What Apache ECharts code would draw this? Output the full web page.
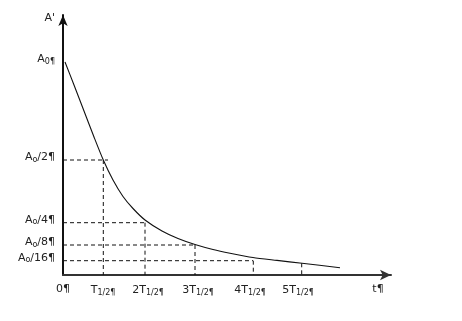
<!DOCTYPE html>
<html><head><meta charset="utf-8">
<script src="https://cdn.jsdelivr.net/npm/echarts@6/dist/echarts.min.js"></script>
<style>html,body{margin:0;padding:0;background:#fff}#c{width:462px;height:321px}</style>
</head><body><div id="c"></div>
<script>
// Decay curve A(t) (t and A in picture units)
const curveT = [2, 11, 21, 31, 40.3, 50, 60, 70, 82, 99, 115, 132, 150, 167, 190, 214, 239, 277];
const curveA = [213, 190, 164, 138, 115, 95, 78.5, 66.5, 55, 44, 36.5, 30.5, 25.5, 21.8, 17.5, 14.6, 11.7, 7.3];
// Horizontal guide levels (A0/2, A0/4, A0/8, A0/16) and how far they run along t
const hLevels = [115, 52.3, 30, 14.3];
const hReach = [45, 83, 132, 190];
// Vertical guides at T1/2 ... 5T1/2 and the height where each starts
const vT = [40.3, 82, 132, 190.3, 238.7];
const vTop = [115, 52.3, 30, 14.3, 11.7];
// Tick labels
const xTickValues = [0, 40, 85, 135, 187, 235, 315];
const xTickLabels = ['0¶', 'T{s|1/2¶}', '2T{s|1/2¶}', '3T{s|1/2¶}', '4T{s|1/2¶}', '5T{s|1/2¶}', 't¶'];
const yTickValues = [254, 213, 115, 52.3, 30, 14.3];
const yTickLabels = ["A'", 'A{s|0¶}', 'A{s|o}/2¶', 'A{s|o}/4¶', 'A{s|o}/8¶', 'A{s|o}/16¶'];

const font = 'DejaVu Sans';
const rich = { s: { fontSize: 8, fontFamily: font, color: '#222', padding: [5, 0, 0, 0] } };
const series = [{
  type: 'line', data: curveT.map((t, i) => [t, curveA[i]]), smooth: 0.25, symbol: 'none',
  lineStyle: { color: '#111', width: 1.1 }, silent: true, z: 3
}];
hLevels.forEach((a, i) => series.push({
  type: 'line', data: [[0, a], [hReach[i], a]], symbol: 'none', silent: true,
  lineStyle: { color: '#111', width: 1, type: [4, 3] }
}));
vT.forEach((t, i) => series.push({
  type: 'line', data: [[t, vTop[i]], [t, 0]], symbol: 'none', silent: true,
  lineStyle: { color: '#111', width: 1, type: [4, 3] }
}));

const chart = echarts.init(document.getElementById('c'), null, { renderer: 'canvas' });
chart.setOption({
  animation: false,
  backgroundColor: '#fff',
  grid: { left: 63, top: 15, width: 328, height: 260 },
  xAxis: {
    type: 'value', min: 0, max: 328,
    splitLine: { show: false },
    axisLine: { onZero: false, symbol: ['none', 'arrow'], symbolSize: [8, 11], symbolOffset: [0, 0],
      lineStyle: { color: '#333', width: 2 } },
    axisTick: { show: false },
    axisLabel: {
      customValues: xTickValues, margin: 9, fontFamily: font, fontSize: 11, color: '#222',
      formatter: v => xTickLabels[xTickValues.indexOf(v)] || '', rich: rich
    }
  },
  yAxis: {
    type: 'value', min: 0, max: 260,
    splitLine: { show: false },
    axisLine: { onZero: false, symbol: ['none', 'arrow'], symbolSize: [7, 11],
      lineStyle: { color: '#111', width: 2 } },
    axisTick: { show: false },
    axisLabel: {
      customValues: yTickValues, margin: 8, fontFamily: font, fontSize: 11, color: '#222',
      padding: [0, 0, 6, 0],
      formatter: v => yTickLabels[yTickValues.indexOf(v)] || '', rich: rich
    }
  },
  series: series
});
</script></body></html>
